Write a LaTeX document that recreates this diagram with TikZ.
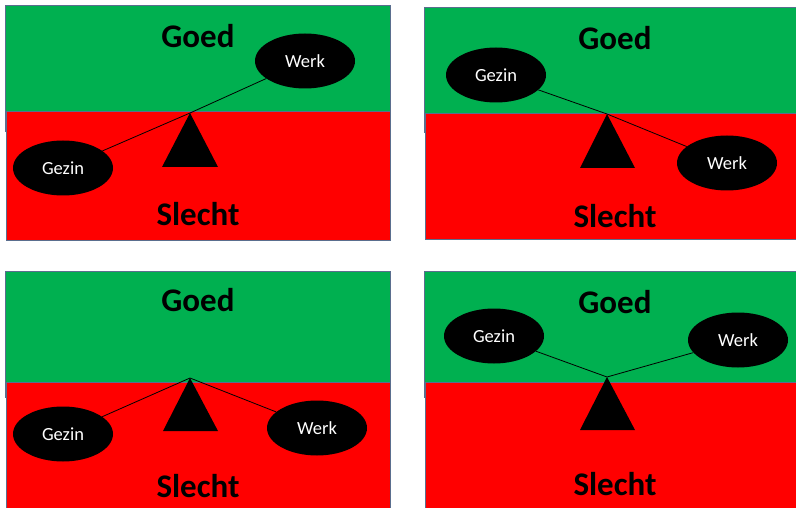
\documentclass[tikz,border=0pt]{standalone}
\usepackage{fontspec}
\setmainfont{Carlito}
\usetikzlibrary{shapes.geometric}
\definecolor{goedgreen}{HTML}{00B050}
\definecolor{slechtred}{HTML}{FF0000}
\definecolor{rim}{HTML}{5A6E8E}
\tikzset{
  goedbox/.style={fill=goedgreen, draw=rim, line width=1pt},
  slechtbox/.style={fill=slechtred, draw=rim, line width=1pt},
  label/.style={font=\bfseries\fontsize{33}{36}\selectfont, text=black, inner sep=0pt},
  pan/.style={ellipse, fill=black, text=white, minimum width=100pt, minimum height=55pt, inner sep=0pt, font=\fontsize{18.5}{21}\selectfont},
  beam/.style={draw=black, line width=0.8pt},
  fulcrum/.style={fill=black}
}
\begin{document}
\begin{tikzpicture}[x=1pt,y=-1pt]
\useasboundingbox (0,0) rectangle (796,508);
\fill[white] (0,0) rectangle (796,508);
\clip (0,0) rectangle (796,508);
% Panel 1
\draw[goedbox] (5,6) rectangle (390,132);
\draw[slechtbox] (6,112) rectangle (390,241);
\node[label] (goed1) at (198,36) {Goed};
\node[label] (slecht1) at (198,214) {Slecht};
\coordinate (a1) at (190,113);
\fill[fulcrum] (a1) -- ++(-28,54) -- ++(56,0) -- cycle;
\node[pan] (g1) at (63,168) {Gezin};
\node[pan] (w1) at (305,61) {Werk};
\draw[beam] (g1) -- (a1) -- (w1);
% Panel 2
\draw[goedbox] (424,8) rectangle (810,133);
\draw[slechtbox] (425,114) rectangle (810,240);
\node[label] (goed2) at (615,38) {Goed};
\node[label] (slecht2) at (615,216) {Slecht};
\coordinate (a2) at (607,114);
\fill[fulcrum] (a2) -- ++(-27,54) -- ++(55,0) -- cycle;
\node[pan] (g2) at (496,75) {Gezin};
\node[pan] (w2) at (727,163) {Werk};
\draw[beam] (g2) -- (a2) -- (w2);
% Panel 3
\draw[goedbox] (5,271) rectangle (390,397);
\draw[slechtbox] (6,382) rectangle (390,520);
\node[label] (goed3) at (198,300) {Goed};
\node[label] (slecht3) at (198,486) {Slecht};
\coordinate (a3) at (190,378);
\fill[fulcrum] (a3) -- ++(-27,53) -- ++(55,0) -- cycle;
\node[pan] (g3) at (63,434) {Gezin};
\node[pan] (w3) at (317,428) {Werk};
\draw[beam] (g3) -- (a3) -- (w3);
% Panel 4
\draw[goedbox] (424,271) rectangle (810,397);
\draw[slechtbox] (425,382) rectangle (810,520);
\node[label] (goed4) at (615,302) {Goed};
\node[label] (slecht4) at (615,484) {Slecht};
\coordinate (a4) at (607,377);
\fill[fulcrum] (a4) -- ++(-27,53) -- ++(55,0) -- cycle;
\node[pan] (g4) at (494,336) {Gezin};
\node[pan] (w4) at (738,340) {Werk};
\draw[beam] (g4) -- (a4) -- (w4);
\end{tikzpicture}
\end{document}
